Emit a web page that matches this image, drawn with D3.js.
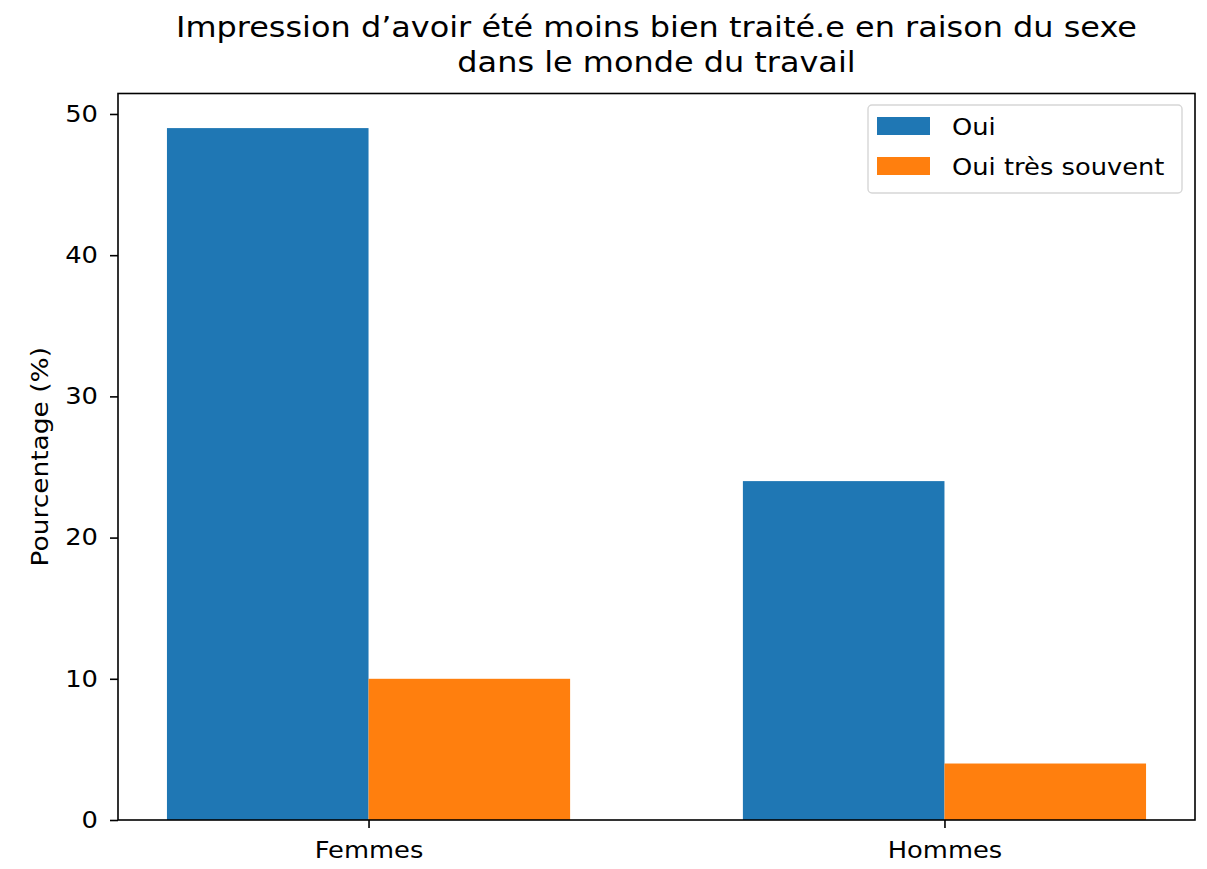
<!DOCTYPE html>
<html>
<head>
<meta charset="utf-8">
<script src="https://cdn.jsdelivr.net/npm/d3@7"></script>
<style>
  body { margin: 0; background: #fff; }
  text { font-family: "DejaVu Sans", sans-serif; fill: #000; }
</style>
</head>
<body>
<div id="chart"></div>
<script>
(function() {
    // données
    const categories = ["Femmes", "Hommes"];
    const seriesNames = ["Oui", "Oui très souvent"];
    const seriesColors = ["#1f77b4", "#ff7f0e"];
    const ouiValues = [49, 24];
    const tresSouventValues = [10, 4];
    const yTicks = [0, 10, 20, 30, 40, 50];
    const titleLines = ["Impression d\u2019avoir été moins bien traité.e en raison du sexe", "dans le monde du travail"];

    const width = 1207, height = 869;
    const margin = { left: 118, right: 12, top: 93.5, bottom: 49 };
    const barWidth = 0.35;
    const stretch = 1.12; // le texte de l'original est un peu plus large

    const svg = d3.select("#chart").append("svg")
        .attr("width", width).attr("height", height);

    // échelle x continue comme matplotlib (positions 0, 1 + marges 5%)
    const xMin = -barWidth, xMax = categories.length - 1 + barWidth;
    const pad = (xMax - xMin) * 0.05;
    const x = d3.scaleLinear()
        .domain([xMin - pad, xMax + pad])
        .range([margin.left, width - margin.right]);

    const yMax = d3.max(ouiValues.concat(tresSouventValues)) * 1.05;
    const y = d3.scaleLinear()
        .domain([0, yMax])
        .range([height - margin.bottom, margin.top]);

    const series = [ouiValues, tresSouventValues];
    const offsets = [-barWidth / 2, barWidth / 2];

    series.forEach((vals, s) => {
        svg.append("g").selectAll("rect")
            .data(vals)
            .join("rect")
            .attr("x", (d, i) => x(i + offsets[s] - barWidth / 2))
            .attr("width", x(barWidth) - x(0))
            .attr("y", d => y(d))
            .attr("height", d => y(0) - y(d))
            .attr("fill", seriesColors[s]);
    });

    // axes
    const yAxis = svg.append("g")
        .attr("transform", `translate(${margin.left},0)`)
        .call(d3.axisLeft(y).tickValues(yTicks).tickSize(8));
    yAxis.select(".domain").remove();
    yAxis.selectAll("line").attr("stroke", "#000").attr("stroke-width", 1.6);
    yAxis.selectAll("text")
        .attr("x", 0)
        .attr("transform", `translate(-20,0) scale(${stretch},1)`)
        .style("font-size", "23px").attr("font-family", "DejaVu Sans");

    const xAxis = svg.append("g")
        .attr("transform", `translate(0,${height - margin.bottom})`)
        .call(d3.axisBottom(x).tickValues(categories.map((c, i) => i))
            .tickFormat(i => categories[i]).tickSize(8));
    xAxis.select(".domain").remove();
    xAxis.selectAll("line").attr("stroke", "#000").attr("stroke-width", 1.6);
    xAxis.selectAll("text")
        .attr("y", 0)
        .attr("transform", `translate(0,21.5) scale(${stretch},1)`)
        .style("font-size", "23px").attr("font-family", "DejaVu Sans");

    // cadre
    svg.append("rect")
        .attr("x", margin.left).attr("y", margin.top)
        .attr("width", width - margin.right - margin.left)
        .attr("height", height - margin.bottom - margin.top)
        .attr("fill", "none").attr("stroke", "#000").attr("stroke-width", 1.6);

    // titre
    svg.append("g")
        .attr("transform", `translate(${(margin.left + width - margin.right) / 2},0) scale(${stretch},1)`)
        .append("text")
        .attr("text-anchor", "middle")
        .style("font-size", "28.5px")
        .selectAll("tspan")
        .data(titleLines)
        .join("tspan")
        .attr("x", 0)
        .attr("y", (d, i) => 37 + i * 35)
        .text(d => d);

    // libellé y
    svg.append("text")
        .attr("transform", `translate(48,${(margin.top + height - margin.bottom) / 2}) rotate(-90) scale(1.15,1)`)
        .attr("text-anchor", "middle")
        .style("font-size", "23px")
        .text("Pourcentage (%)");

    // légende
    const legend = svg.append("g").attr("transform", "translate(868,105)");
    legend.append("rect")
        .attr("width", 314).attr("height", 88).attr("rx", 4)
        .attr("fill", "#fff").attr("fill-opacity", 0.8)
        .attr("stroke", "#d6d6d6").attr("stroke-width", 1.4);
    seriesNames.forEach((name, i) => {
        legend.append("rect")
            .attr("x", 9).attr("y", 12 + i * 40)
            .attr("width", 53).attr("height", 18)
            .attr("fill", seriesColors[i]);
        legend.append("text")
            .attr("transform", `translate(84,${30 + i * 40}) scale(${stretch},1)`)
            .style("font-size", "23px")
            .text(name);
    });
})();
</script>
</body>
</html>
